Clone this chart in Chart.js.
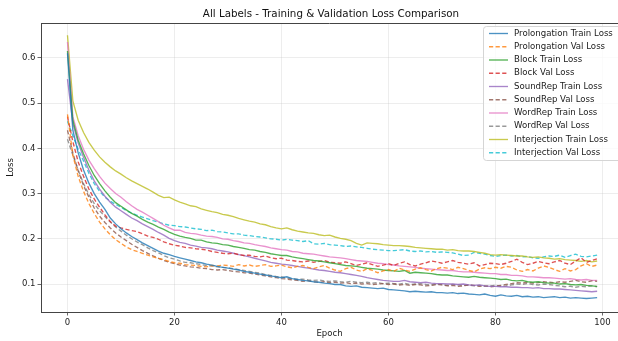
<!DOCTYPE html>
<html><head><meta charset="utf-8">
<script src="https://cdn.jsdelivr.net/npm/chart.js@4.4.1/dist/chart.umd.min.js"></script>
<style>html,body{margin:0;padding:0;background:#fff;overflow:hidden}#wrap{width:618px;height:341px;position:relative}</style>
</head><body><div id="wrap"><canvas id="c" width="618" height="341"></canvas></div>
<script>
const epochs = Array.from({length: 100}, (_, i) => i);
const xTicks = [0, 20, 40, 60, 80, 100];
const yTicks = [0.1, 0.2, 0.3, 0.4, 0.5, 0.6];

const prolongationTrain = [0.610,0.440,0.390,0.352,0.323,0.300,0.281,0.265,0.246,0.233,
0.222,0.213,0.205,0.198,0.191,0.185,0.179,0.173,0.168,0.165,
0.161,0.158,0.155,0.152,0.149,0.147,0.144,0.142,0.139,0.137,
0.135,0.133,0.131,0.128,0.126,0.124,0.122,0.120,0.118,0.116,
0.114,0.116,0.112,0.110,0.108,0.107,0.105,0.104,0.102,0.101,
0.099,0.099,0.096,0.095,0.096,0.093,0.092,0.091,0.090,0.091,
0.088,0.087,0.086,0.085,0.083,0.084,0.083,0.082,0.083,0.081,
0.081,0.080,0.081,0.079,0.080,0.078,0.077,0.076,0.078,0.075,
0.073,0.076,0.074,0.073,0.075,0.072,0.073,0.071,0.072,0.070,
0.071,0.072,0.070,0.071,0.069,0.070,0.069,0.068,0.069,0.070];
const prolongationVal = [0.475,0.385,0.338,0.305,0.278,0.256,0.237,0.222,0.209,0.198,
0.190,0.182,0.176,0.172,0.168,0.164,0.160,0.157,0.154,0.150,
0.147,0.146,0.143,0.142,0.141,0.139,0.138,0.141,0.140,0.142,
0.141,0.139,0.143,0.140,0.142,0.139,0.141,0.143,0.139,0.140,
0.142,0.138,0.136,0.139,0.141,0.137,0.134,0.138,0.141,0.135,
0.131,0.128,0.134,0.137,0.131,0.128,0.134,0.130,0.125,0.129,
0.132,0.128,0.135,0.131,0.128,0.133,0.136,0.132,0.129,0.134,
0.137,0.135,0.132,0.137,0.134,0.130,0.127,0.133,0.136,0.134,
0.137,0.135,0.139,0.137,0.131,0.128,0.132,0.129,0.135,0.140,
0.137,0.132,0.128,0.134,0.129,0.132,0.140,0.145,0.139,0.142];
const blockTrain = [0.615,0.462,0.418,0.388,0.362,0.340,0.322,0.306,0.292,0.280,
0.272,0.264,0.256,0.250,0.243,0.237,0.232,0.226,0.221,0.215,
0.210,0.206,0.203,0.201,0.197,0.197,0.193,0.191,0.190,0.187,
0.186,0.183,0.181,0.179,0.176,0.175,0.172,0.170,0.167,0.165,
0.163,0.163,0.160,0.158,0.156,0.154,0.152,0.151,0.149,0.147,
0.145,0.143,0.141,0.140,0.139,0.137,0.135,0.134,0.133,0.131,
0.130,0.129,0.128,0.130,0.124,0.126,0.125,0.124,0.123,0.121,
0.120,0.120,0.118,0.117,0.116,0.115,0.117,0.115,0.114,0.113,
0.112,0.110,0.111,0.108,0.107,0.108,0.105,0.104,0.105,0.103,
0.102,0.102,0.100,0.101,0.099,0.098,0.099,0.097,0.096,0.095];
const blockVal = [0.470,0.415,0.370,0.338,0.310,0.288,0.270,0.253,0.238,0.228,
0.224,0.221,0.218,0.216,0.211,0.206,0.203,0.199,0.193,0.189,
0.186,0.184,0.181,0.180,0.178,0.177,0.175,0.172,0.170,0.168,
0.167,0.168,0.165,0.163,0.164,0.161,0.160,0.162,0.158,0.156,
0.157,0.153,0.152,0.150,0.149,0.151,0.148,0.150,0.152,0.148,
0.147,0.146,0.149,0.145,0.141,0.144,0.147,0.143,0.139,0.142,
0.145,0.141,0.146,0.149,0.143,0.140,0.144,0.147,0.151,0.149,
0.146,0.149,0.152,0.148,0.146,0.144,0.147,0.140,0.143,0.146,
0.145,0.143,0.146,0.150,0.155,0.148,0.143,0.146,0.150,0.147,
0.145,0.149,0.152,0.146,0.143,0.151,0.158,0.148,0.152,0.156];
const soundRepTrain = [0.553,0.455,0.412,0.380,0.352,0.328,0.310,0.294,0.281,0.270,
0.262,0.254,0.246,0.240,0.233,0.227,0.221,0.214,0.208,0.201,
0.196,0.192,0.190,0.186,0.184,0.181,0.180,0.178,0.175,0.173,
0.171,0.168,0.165,0.163,0.160,0.157,0.154,0.151,0.148,0.146,
0.144,0.143,0.141,0.139,0.137,0.135,0.133,0.131,0.130,0.128,
0.126,0.125,0.123,0.121,0.119,0.117,0.114,0.112,0.110,0.108,
0.107,0.106,0.106,0.108,0.105,0.104,0.103,0.104,0.102,0.101,
0.101,0.100,0.100,0.099,0.100,0.098,0.097,0.098,0.096,0.095,
0.095,0.094,0.094,0.093,0.093,0.092,0.092,0.091,0.092,0.090,
0.090,0.089,0.089,0.088,0.087,0.086,0.085,0.084,0.083,0.084];
const soundRepVal = [0.440,0.390,0.350,0.318,0.292,0.268,0.250,0.236,0.224,0.213,
0.204,0.196,0.188,0.181,0.174,0.168,0.162,0.157,0.152,0.148,
0.145,0.142,0.140,0.138,0.137,0.135,0.134,0.132,0.131,0.132,
0.130,0.128,0.127,0.125,0.124,0.122,0.120,0.118,0.116,0.114,
0.112,0.111,0.109,0.108,0.106,0.107,0.105,0.104,0.105,0.103,
0.104,0.102,0.103,0.101,0.102,0.100,0.101,0.099,0.100,0.101,
0.099,0.100,0.098,0.099,0.097,0.099,0.098,0.096,0.097,0.099,
0.098,0.096,0.097,0.095,0.096,0.098,0.097,0.095,0.096,0.094,
0.095,0.097,0.099,0.101,0.103,0.102,0.104,0.102,0.103,0.105,
0.104,0.103,0.105,0.104,0.106,0.108,0.105,0.104,0.107,0.106];
const wordRepTrain = [0.635,0.470,0.428,0.398,0.374,0.355,0.338,0.323,0.311,0.300,
0.292,0.282,0.273,0.265,0.259,0.252,0.245,0.238,0.230,0.224,
0.219,0.219,0.214,0.212,0.211,0.208,0.206,0.205,0.203,0.200,
0.199,0.196,0.194,0.191,0.190,0.187,0.185,0.183,0.180,0.178,
0.176,0.175,0.172,0.171,0.168,0.167,0.166,0.164,0.162,0.160,
0.159,0.158,0.156,0.154,0.152,0.151,0.150,0.148,0.146,0.145,
0.143,0.142,0.140,0.139,0.138,0.137,0.135,0.134,0.133,0.132,
0.131,0.130,0.130,0.128,0.127,0.127,0.126,0.125,0.124,0.123,
0.123,0.121,0.121,0.119,0.119,0.118,0.116,0.116,0.115,0.114,
0.114,0.113,0.112,0.111,0.112,0.110,0.109,0.110,0.108,0.108];
const wordRepVal = [0.420,0.385,0.352,0.322,0.298,0.278,0.262,0.249,0.237,0.226,
0.217,0.208,0.200,0.193,0.187,0.180,0.174,0.169,0.163,0.158,
0.155,0.151,0.148,0.147,0.145,0.143,0.141,0.140,0.138,0.137,
0.136,0.134,0.132,0.130,0.128,0.126,0.124,0.121,0.119,0.117,
0.116,0.113,0.112,0.110,0.111,0.109,0.108,0.109,0.107,0.106,
0.107,0.105,0.104,0.106,0.104,0.103,0.104,0.102,0.103,0.101,
0.102,0.101,0.100,0.102,0.099,0.100,0.101,0.099,0.098,0.100,
0.099,0.097,0.099,0.098,0.097,0.098,0.096,0.097,0.095,0.096,
0.097,0.095,0.096,0.098,0.100,0.099,0.101,0.099,0.098,0.100,
0.099,0.097,0.096,0.094,0.095,0.093,0.095,0.094,0.096,0.094];
const interjectionTrain = [0.650,0.505,0.462,0.435,0.413,0.396,0.381,0.369,0.359,0.350,
0.343,0.335,0.328,0.322,0.316,0.310,0.303,0.296,0.291,0.292,
0.286,0.281,0.277,0.273,0.271,0.266,0.263,0.260,0.258,0.254,
0.252,0.249,0.245,0.242,0.239,0.237,0.233,0.231,0.227,0.224,
0.222,0.224,0.220,0.217,0.215,0.213,0.212,0.209,0.207,0.208,
0.204,0.201,0.199,0.196,0.190,0.186,0.191,0.190,0.189,0.187,
0.186,0.185,0.185,0.184,0.183,0.181,0.180,0.179,0.178,0.177,
0.177,0.175,0.176,0.174,0.173,0.173,0.172,0.170,0.168,0.165,
0.164,0.165,0.164,0.163,0.162,0.162,0.160,0.159,0.160,0.158,
0.157,0.155,0.156,0.154,0.153,0.152,0.150,0.152,0.149,0.151];
const interjectionVal = [0.460,0.428,0.398,0.372,0.345,0.322,0.305,0.292,0.283,0.276,
0.270,0.262,0.257,0.252,0.248,0.244,0.240,0.237,0.233,0.230,
0.229,0.227,0.226,0.224,0.222,0.221,0.218,0.219,0.216,0.215,
0.213,0.211,0.211,0.208,0.207,0.205,0.204,0.202,0.200,0.199,
0.197,0.199,0.197,0.196,0.194,0.196,0.189,0.188,0.190,0.187,
0.186,0.185,0.183,0.184,0.182,0.181,0.179,0.177,0.176,0.175,
0.174,0.174,0.175,0.176,0.173,0.172,0.173,0.171,0.172,0.170,
0.171,0.170,0.169,0.166,0.163,0.164,0.170,0.168,0.166,0.163,
0.161,0.163,0.164,0.162,0.163,0.160,0.161,0.158,0.157,0.160,
0.162,0.161,0.164,0.159,0.163,0.166,0.161,0.160,0.162,0.164];

const seriesLabels = ['Prolongation Train Loss','Prolongation Val Loss','Block Train Loss','Block Val Loss',
  'SoundRep Train Loss','SoundRep Val Loss','WordRep Train Loss','WordRep Val Loss',
  'Interjection Train Loss','Interjection Val Loss'];
const seriesData = [prolongationTrain, prolongationVal, blockTrain, blockVal, soundRepTrain, soundRepVal,
  wordRepTrain, wordRepVal, interjectionTrain, interjectionVal];

const styles = [
  {rgb:'31,119,180', dash:false},{rgb:'255,127,14', dash:true},
  {rgb:'44,160,44', dash:false},{rgb:'214,39,40', dash:true},
  {rgb:'148,103,189', dash:false},{rgb:'140,86,75', dash:true},
  {rgb:'227,119,194', dash:false},{rgb:'127,127,127', dash:true},
  {rgb:'188,189,34', dash:false},{rgb:'23,190,207', dash:true}
];
const DASH = [4.2, 2.4];
const FONT = "'DejaVu Sans', sans-serif";

const datasets = seriesData.map((arr, k) => ({
  label: seriesLabels[k],
  data: arr.map((v, i) => ({x: epochs[i], y: v})),
  borderColor: 'rgba(' + styles[k].rgb + ',0.8)',
  borderWidth: 1.35,
  borderDash: styles[k].dash ? DASH : [],
  pointRadius: 0,
  tension: 0,
  fill: false
}));

const extras = {
  id: 'extras',
  afterDraw(chart) {
    const ctx = chart.ctx, a = chart.chartArea;
    ctx.save();
    ctx.strokeStyle = '#444'; ctx.lineWidth = 1;
    ctx.beginPath(); ctx.moveTo(a.left, a.top + 0.5); ctx.lineTo(a.right, a.top + 0.5); ctx.stroke();
    ctx.fillStyle = '#111';
    ctx.font = '10.3px ' + FONT;
    ctx.textAlign = 'center'; ctx.textBaseline = 'middle';
    ctx.fillText('All Labels - Training & Validation Loss Comparison', 331, 14);
    const x0 = 483.5, y0 = 26.5, w = 140, h = 134, r = 3;
    ctx.beginPath();
    ctx.moveTo(x0 + r, y0); ctx.lineTo(x0 + w - r, y0); ctx.arcTo(x0 + w, y0, x0 + w, y0 + r, r);
    ctx.lineTo(x0 + w, y0 + h - r); ctx.arcTo(x0 + w, y0 + h, x0 + w - r, y0 + h, r);
    ctx.lineTo(x0 + r, y0 + h); ctx.arcTo(x0, y0 + h, x0, y0 + h - r, r);
    ctx.lineTo(x0, y0 + r); ctx.arcTo(x0, y0, x0 + r, y0, r); ctx.closePath();
    ctx.fillStyle = 'rgba(255,255,255,0.8)'; ctx.fill();
    ctx.strokeStyle = '#d5d5d5'; ctx.stroke();
    ctx.font = '8.6px ' + FONT; ctx.textAlign = 'left';
    chart.data.datasets.forEach((ds, k) => {
      const y = 33.5 + k * 13.25;
      ctx.strokeStyle = ds.borderColor; ctx.lineWidth = 1.35;
      ctx.setLineDash(ds.borderDash || []);
      ctx.beginPath(); ctx.moveTo(489, y); ctx.lineTo(508, y); ctx.stroke();
      ctx.setLineDash([]);
      ctx.fillStyle = '#1a1a1a';
      ctx.fillText(ds.label, 514, y);
    });
    ctx.restore();
  }
};

new Chart(document.getElementById('c'), {
  type: 'line',
  data: { datasets },
  options: {
    responsive: false,
    animation: false,
    events: [],
    layout: { padding: { top: 23, left: 0, right: 0, bottom: 0 } },
    plugins: { legend: { display: false }, title: { display: false }, tooltip: { enabled: false } },
    scales: {
      x: {
        type: 'linear', min: -4.95, max: 102.9,
        afterBuildTicks: s => { s.ticks = xTicks.map(v => ({value: v})); },
        afterFit: s => { s.height = 29; },
        ticks: { font: { family: FONT, size: 8.5 }, color: '#222', padding: 2, maxRotation: 0, autoSkip: false },
        grid: { color: 'rgba(190,190,190,0.35)', lineWidth: 0.8, tickColor: '#444', tickLength: 3.5 },
        border: { color: '#444', width: 1 },
        title: { display: true, text: 'Epoch', color: '#1a1a1a', font: { family: FONT, size: 8.5 }, padding: { top: 0, bottom: 2 } }
      },
      y: {
        type: 'linear', min: 0.0382, max: 0.677,
        afterBuildTicks: s => { s.ticks = yTicks.map(v => ({value: v})); },
        afterFit: s => { s.width = 41; },
        ticks: { font: { family: FONT, size: 8.5 }, color: '#222', padding: 2, autoSkip: false, callback: v => v.toFixed(1) },
        grid: { color: 'rgba(190,190,190,0.35)', lineWidth: 0.8, tickColor: '#444', tickLength: 3.5 },
        border: { color: '#444', width: 1 },
        title: { display: true, text: 'Loss', color: '#1a1a1a', font: { family: FONT, size: 8.5 }, padding: { top: 6, bottom: 0 } }
      }
    }
  },
  plugins: [extras]
});
</script></body></html>
